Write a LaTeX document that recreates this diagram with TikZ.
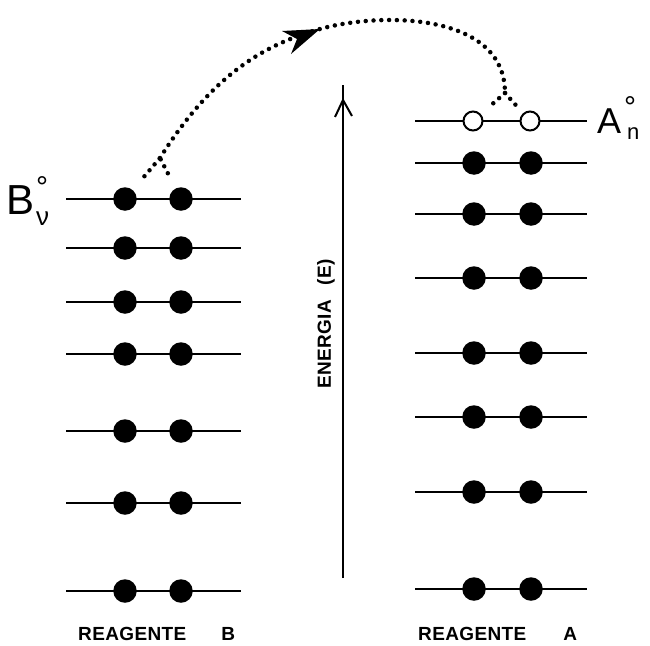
\documentclass[tikz,border=0pt]{standalone}
\usepackage{fontspec}
\setmainfont{Liberation Sans}
\begin{document}
\begin{tikzpicture}[x=1pt,y=-1pt,
  level/.style={line width=2.5pt},
  electron/.style={circle,fill=black,inner sep=0pt,minimum size=23.5pt},
  hole/.style={circle,draw=black,line width=2pt,fill=white,inner sep=0pt,minimum size=19pt},
  hop/.style={line width=4.5pt,line cap=round,dash pattern=on 0pt off 7.8pt},
  axisline/.style={line width=2pt},
  caption/.style={font=\fontsize{19}{19}\selectfont\bfseries\addfontfeatures{LetterSpace=2},inner sep=0pt,anchor=base west},
  biglabel/.style={inner sep=0pt,anchor=base west}]
\useasboundingbox (0,0) rectangle (650,645);

% Reagente B levels
\foreach \y [count=\i] in {199,248,302,354,431,503,591}{
  \coordinate (bl\i) at (66,\y);
  \coordinate (br\i) at (241,\y);
  \draw[level] (bl\i) -- (br\i);
  \node[electron] (b\i a) at (125,\y) {};
  \node[electron] (b\i b) at (181,\y) {};
}

% Reagente A levels
\coordinate (al1) at (415,121);
\coordinate (ar1) at (587,121);
\draw[level] (al1) -- (ar1);
\node[hole] (a1a) at (473,121) {};
\node[hole] (a1b) at (530,121) {};
\foreach \y [count=\i from 2] in {163,214,278,353,417,492,589}{
  \coordinate (al\i) at (415,\y);
  \coordinate (ar\i) at (587,\y);
  \draw[level] (al\i) -- (ar\i);
  \node[electron] (a\i a) at (474,\y) {};
  \node[electron] (a\i b) at (531,\y) {};
}

% electron transfer path
\coordinate (jB) at (160,158);
\coordinate (jA) at (505,93);
\coordinate (tip) at (320,29);
\draw[hop,shorten <=18pt] (b1a) -- (jB);
\draw[hop,shorten <=17pt] (b1b) -- (jB);
\draw[hop] (jB) .. controls (215,70) and (270,43) .. (tip)
               .. controls (380,12) and (505,12) .. (jA);
\draw[hop,shorten >=11pt] (jA) -- (a1a);
\draw[hop,shorten >=11pt] (jA) -- (a1b);
\fill (tip) -- (282,31) -- (297,39) -- (291,54) -- cycle;

% energy axis
\coordinate (axB) at (343,578);
\coordinate (axT) at (343,85);
\coordinate (axV) at (343,100);
\draw[axisline] (axB) -- (axT);
\draw[axisline] (335,117) -- (axV) -- (352,116);
\node[rotate=90,font=\fontsize{19}{19}\selectfont\bfseries\addfontfeatures{LetterSpace=2},inner sep=0pt] (energia) at (326,324) {ENERGIA\hspace{14pt}(E)};

% level labels
\node[biglabel,font=\fontsize{42}{42}\selectfont] (Bl) at (6,214) {B};
\node[inner sep=0pt,anchor=north,font=\fontsize{30}{30}\selectfont] (Bdeg) at (42,176) {°};
\node[biglabel,font=\fontsize{26}{26}\selectfont] (Bsub) at (36,225) {ν};
\node[biglabel,font=\fontsize{36}{36}\selectfont] (Al) at (597,133) {A};
\node[inner sep=0pt,anchor=north,font=\fontsize{30}{30}\selectfont] (Adeg) at (630,96) {°};
\node[biglabel,font=\fontsize{22}{22}\selectfont] (Asub) at (627,139) {n};

% captions
\node[caption] (capB) at (78,640) {REAGENTE\hspace{35pt}B};
\node[caption] (capA) at (418,640) {REAGENTE\hspace{37pt}A};
\end{tikzpicture}
\end{document}
